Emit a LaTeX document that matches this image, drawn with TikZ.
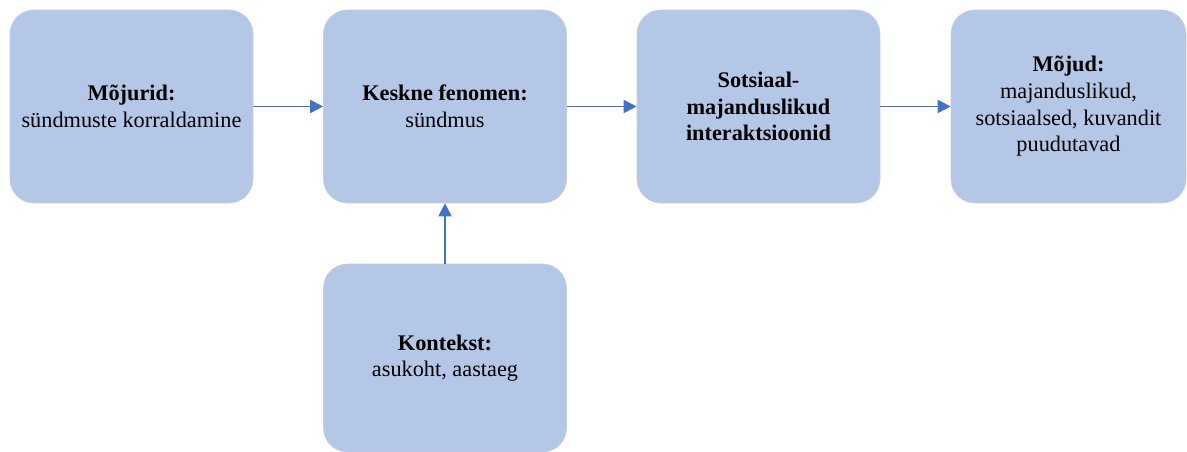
\documentclass[tikz,border=0pt]{standalone}
\usepackage{fontspec}
\setmainfont{Liberation Serif}
\usetikzlibrary{arrows.meta}
\definecolor{boxfill}{HTML}{B4C7E7}
\definecolor{boxedge}{HTML}{C3CEE0}
\definecolor{arrowblue}{HTML}{4472C4}
\begin{document}
\begin{tikzpicture}[x=1pt,y=1pt,
  box/.style={fill=boxfill, draw=boxedge, line width=0.6pt, rounded corners=24pt,
    minimum width=243pt, minimum height=193pt, inner sep=0pt,
    align=center, font=\fontsize{22.3}{26.6}\selectfont},
  flow/.style={draw=arrowblue, line width=1.9pt,
    -{Triangle[length=13pt,width=13pt]}}]
  \useasboundingbox (0,0) rectangle (1187,452);
  % top row of boxes (picture y grows upwards: y = 452 - row)
  \node[box] (drivers) at (131.5,345.5) {\textbf{Mõjurid:}\\sündmuste korraldamine};
  \node[box] (core)    at (445,345.5)   {\textbf{Keskne fenomen:}\\sündmus};
  \node[box] (inter)   at (758.5,345.5) {\textbf{Sotsiaal-}\\\textbf{majanduslikud}\\\textbf{interaktsioonid}};
  \node[box, minimum width=235pt] (effects) at (1068.5,345.5) {\textbf{Mõjud:}\\majanduslikud,\\sotsiaalsed, kuvandit\\puudutavad};
  % context box below the core phenomenon
  \node[box, minimum height=188pt] (context) at (445,94) {\textbf{Kontekst:}\\asukoht, aastaeg};
  % connectors
  \draw[flow] (drivers.east) -- (core.west);
  \draw[flow] (core.east) -- (inter.west);
  \draw[flow] (inter.east) -- (effects.west);
  \draw[flow] (context.north) -- (core.south);
\end{tikzpicture}
\end{document}
